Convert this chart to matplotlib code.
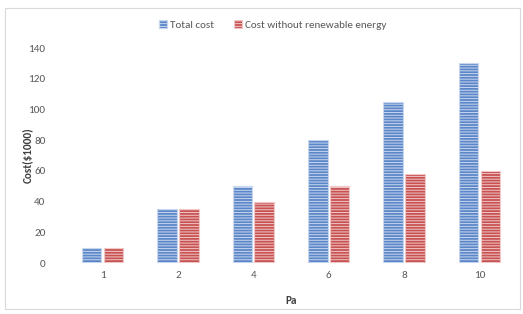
import numpy as np
import matplotlib
matplotlib.use('Agg')
import matplotlib.pyplot as plt
from matplotlib.patches import Rectangle

categories = ['1', '2', '4', '6', '8', '10']
total_cost = [10, 35, 50, 80, 105, 130]
cost_no_renew = [10, 35, 40, 50, 58, 60]

plt.rcParams['font.family'] = ['Calibri', 'Carlito', 'Open Sans', 'DejaVu Sans']
plt.rcParams['hatch.linewidth'] = 0.7

fig = plt.figure(figsize=(5.23, 3.14), dpi=100)
fig.patches.append(Rectangle((0.01, 0.015), 0.985, 0.96, transform=fig.transFigure,
                             fill=False, edgecolor='#d9d9d9', linewidth=0.8))
ax = fig.add_axes([0.124, 0.162, 0.865, 0.685])

x = np.arange(len(categories))
w = 0.26
ax.bar(x - w/2 - 0.015, total_cost, w, color='#5b87c8', edgecolor='#c9d7ee',
       hatch='------', linewidth=0.8, label='Total cost')
ax.bar(x + w/2 + 0.015, cost_no_renew, w, color='#c85252', edgecolor='#f0c8c8',
       hatch='------', linewidth=0.8, label='Cost without renewable energy')

ax.set_xlim(-0.5, len(categories) - 0.5)
ax.set_ylim(0, 140)
ax.set_yticks(range(0, 141, 20))
ax.set_xticks(x)
ax.set_xticklabels(categories)
for s in ax.spines.values():
    s.set_visible(False)
ax.tick_params(length=0, colors='#595959', labelsize=8, pad=6)
ax.tick_params(axis='y', pad=14)
ax.set_xlabel('Pa', fontsize=8, fontweight='bold', color='#404040')
ax.set_ylabel('Cost($1000)', fontsize=8, fontweight='bold', color='#404040')
ax.xaxis.set_label_coords(0.5, -0.15)
ax.yaxis.set_label_coords(-0.07, 0.5)

leg = ax.legend(loc='center', bbox_to_anchor=(0.46, 1.107), ncol=2, frameon=False,
                fontsize=8, handlelength=0.7, handleheight=0.7, handletextpad=0.3,
                columnspacing=1.8, labelcolor='#595959')

fig.savefig('out.png', dpi=100)
